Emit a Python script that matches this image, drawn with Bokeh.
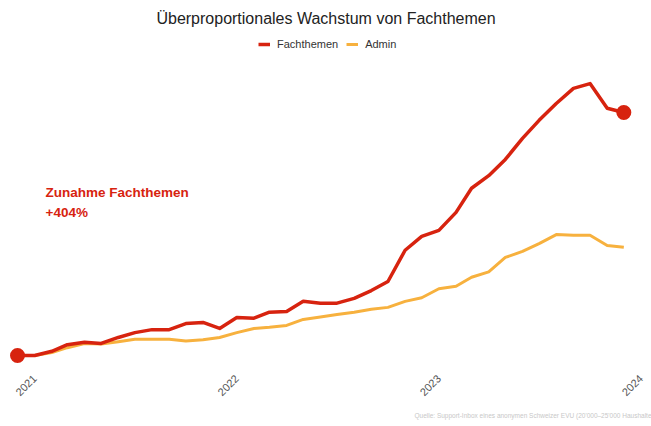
import math
import pandas as pd
from bokeh.plotting import figure
from bokeh.models import Range1d, Label, Legend, LegendItem, FixedTicker, DatetimeTickFormatter, Title
from bokeh.embed import file_html
from bokeh.resources import INLINE

# ---- data (monthly index values, Dec 2020 = 100) ----
months = pd.date_range("2020-12-01", periods=37, freq="MS")
fachthemen = [100, 100, 107, 118, 122, 120, 130, 138, 143, 143, 153, 155, 145,
              163, 162, 172, 173, 190, 187, 187, 195, 208, 223, 275, 298, 308,
              338, 378, 399, 426, 461, 491, 519, 544, 552, 511, 504]
admin = [100, 100, 105, 113, 120, 119, 123, 127, 127, 127, 124, 126, 130,
         138, 145, 147, 150, 160, 164, 168, 172, 177, 180, 190, 196, 211,
         215, 230, 239, 263, 273, 286, 301, 300, 300, 283, 280]
tick_years = [2021, 2022, 2023, 2024]

title_text = "Überproportionales Wachstum von Fachthemen"
source_text = "Quelle: Support-Inbox eines anonymen Schweizer EVU (20'000–25'000 Haushalte"

RED = "#D7230F"
ORANGE = "#F7B13E"
FONT = "Liberation Sans"

W, H = 651, 426
BOTTOM = 60
FRAME_H = H - BOTTOM

p = figure(width=W, height=H, x_axis_type="datetime", y_axis_location=None,
           output_backend="svg", toolbar_location=None,
           min_border_left=0, min_border_right=0, min_border_top=0,
           min_border_bottom=BOTTOM)
p.x_range = Range1d(pd.Timestamp("2020-10-31 06:00"), pd.Timestamp("2024-01-20"))
p.y_range = Range1d(81.7, 690.2)
p.outline_line_color = None
p.grid.visible = False
p.background_fill_color = "white"
p.border_fill_color = "white"

r_admin = p.line(months, admin, line_color=ORANGE, line_width=3, line_join="round")
r_fach = p.line(months, fachthemen, line_color=RED, line_width=3.5, line_join="round")
p.scatter([months[0], months[-1]], [fachthemen[0], fachthemen[-1]],
          size=15, color=RED, line_color=None)

ax = p.xaxis[0]
ax.ticker = FixedTicker(ticks=[pd.Timestamp(f"{y}-01-01").value / 1e6 for y in tick_years])
ax.formatter = DatetimeTickFormatter(years="%Y", months="%Y", days="%Y")
ax.axis_line_color = None
ax.major_tick_line_color = None
ax.minor_tick_line_color = None
ax.major_label_orientation = math.pi / 4
ax.major_label_text_color = "#555555"
ax.major_label_text_font = FONT
ax.major_label_text_font_size = "11px"
ax.major_label_standoff = 4

legend = Legend(items=[LegendItem(label="Fachthemen", renderers=[r_fach]),
                       LegendItem(label="Admin", renderers=[r_admin])],
                orientation="horizontal", location=(258, FRAME_H - 54),
                glyph_width=12, glyph_height=20, label_standoff=7, spacing=8,
                padding=0, margin=0, border_line_color=None,
                background_fill_alpha=0, label_text_font=FONT,
                label_text_font_size="11px", label_text_color="#333333")
p.add_layout(legend)

p.add_layout(Label(x=W / 2, y=FRAME_H - 18, x_units="screen", y_units="screen",
                   text=title_text, text_align="center", text_baseline="middle",
                   text_font=FONT, text_font_size="16px", text_color="#222222"))

pct = round((fachthemen[-1] / fachthemen[0] - 1) * 100)
p.add_layout(Label(x=45, y=FRAME_H - 192, x_units="screen", y_units="screen",
                   text="Zunahme Fachthemen", text_baseline="middle",
                   text_font=FONT, text_font_size="13.5px", text_font_style="bold",
                   text_color=RED))
p.add_layout(Label(x=45, y=FRAME_H - 212, x_units="screen", y_units="screen",
                   text=f"+{pct}%", text_baseline="middle",
                   text_font=FONT, text_font_size="13.5px", text_font_style="bold",
                   text_color=RED))

p.add_layout(Title(text=source_text, align="right", standoff=14,
                   text_font=FONT, text_font_size="6.5px",
                   text_font_style="normal", text_color="#c8c8c8"), "below")

open("out.html", "w").write(file_html(p, INLINE))
